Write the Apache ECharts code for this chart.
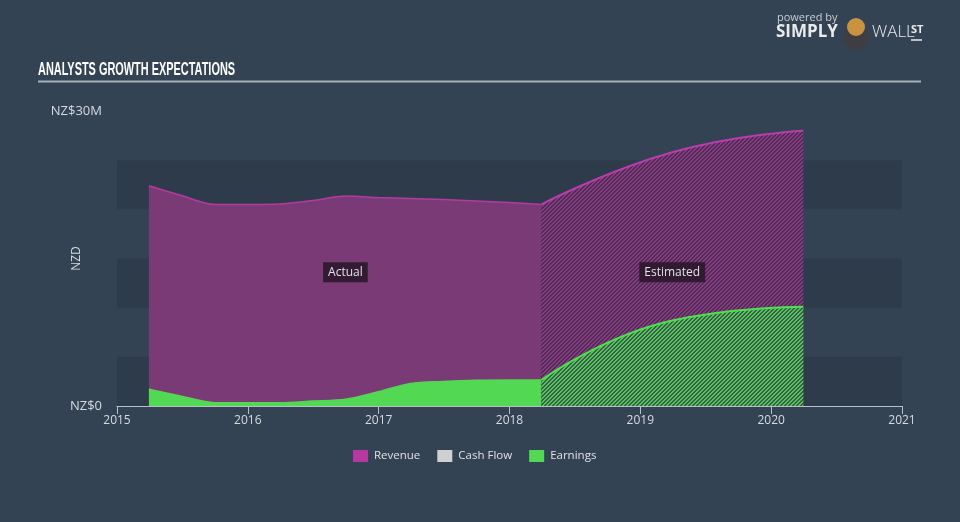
<!DOCTYPE html>
<html>
<head>
<meta charset="utf-8">
<script src="https://cdn.jsdelivr.net/npm/echarts@6/dist/echarts.min.js"></script>
<style>
html,body{margin:0;padding:0;background:#344354;}
#chart{width:960px;height:522px;}
</style>
</head>
<body>
<div id="chart"></div>
<script>
// ---- data ----
const actualDates = ['2015-03-31','2015-06-30','2015-09-30','2015-12-31','2016-03-31','2016-06-30','2016-09-30','2016-12-31','2017-03-31','2017-06-30','2017-09-30','2017-12-31','2018-03-31'];
const revenueActual = [22.4, 21.4, 20.5, 20.5, 20.55, 20.9, 21.35, 21.2, 21.1, 21.0, 20.85, 20.7, 20.5];
const earningsActual = [1.7, 1.0, 0.34, 0.34, 0.34, 0.5, 0.68, 1.45, 2.3, 2.5, 2.62, 2.65, 2.65];
const estimateDates = ['2018-03-31','2019-03-31','2020-03-31'];
const revenueEstimate = [20.5, 25.8, 28.0];
const earningsEstimate = [2.65, 8.7, 10.1];
const cashFlow = [];
const legendNames = ['Revenue', 'Cash Flow', 'Earnings'];
const yTickLabels = {0: 'NZ$0', 30: 'NZ$30M'};
const regionLabels = [
  {text: 'Actual', date: '2016-09-30', value: 13.6},
  {text: 'Estimated', date: '2019-03-31', value: 13.6}
];

// date string -> fractional year (for a linear year axis)
function toYear(s) {
  const d = new Date(s + 'T00:00:00Z');
  const y = d.getUTCFullYear();
  const a = Date.UTC(y, 0, 1), b = Date.UTC(y + 1, 0, 1);
  return y + (d.getTime() - a) / (b - a);
}
function zip(d, v) { return d.map((x, i) => [toYear(x), v[i]]); }
function hatch(bg, fg) {
  const c = document.createElement('canvas');
  c.width = 4; c.height = 4;
  const ctx = c.getContext('2d');
  ctx.fillStyle = bg; ctx.fillRect(0, 0, 4, 4);
  ctx.fillStyle = fg;
  for (let i = 0; i < 4; i++) { ctx.fillRect(i, 3 - i, 1, 1); ctx.fillRect(i, (4 - i) % 4, 1, 1); }
  return c;
}

const REV = '#b43aa2', REV_FILL = '#7a3a76', EARN = '#52d852', CASH = '#d0d0d0';
const labelStyle = {
  show: true, position: 'inside', color: '#e4e0e6', fontSize: 12,
  fontFamily: 'Open Sans', backgroundColor: 'rgba(38,22,40,0.85)', padding: [4, 5]
};

const chart = echarts.init(document.getElementById('chart'), null, {renderer: 'canvas'});
chart.setOption({
  backgroundColor: '#344354',
  animation: false,
  textStyle: {fontFamily: 'Open Sans'},
  grid: {left: 117, right: 58, top: 111, bottom: 116},
  legend: {
    left: 353, top: 450, padding: 0, itemWidth: 15, itemHeight: 12, itemGap: 17, icon: 'rect',
    textStyle: {color: '#dfe2e6', fontSize: 11.5, fontFamily: 'Open Sans', padding: [0, 0, 0, 1]},
    data: [
      {name: legendNames[0], itemStyle: {color: REV}},
      {name: legendNames[1], itemStyle: {color: CASH}},
      {name: legendNames[2], itemStyle: {color: EARN}}
    ]
  },
  xAxis: {
    type: 'value', min: 2015, max: 2021, interval: 1,
    axisLine: {onZero: false, lineStyle: {color: '#b6c0cb', width: 1}},
    axisTick: {show: true, length: 8, lineStyle: {color: '#b6c0cb'}},
    axisLabel: {color: '#d6dbe0', fontSize: 12, margin: 9, showMaxLabel: true, formatter: v => String(Math.round(v))},
    splitLine: {show: false}
  },
  yAxis: {
    type: 'value', min: 0, max: 30, interval: 5,
    name: 'NZD', nameLocation: 'middle', nameGap: 34, nameRotate: 90, nameMoveOverlap: false,
    nameTextStyle: {color: '#d6dbe0', fontSize: 12},
    axisLine: {show: false}, axisTick: {show: false},
    axisLabel: {color: '#d6dbe0', fontSize: 13, margin: 15, formatter: v => yTickLabels[v] || ''},
    splitLine: {show: false},
    splitArea: {show: true, areaStyle: {color: ['#2e3b4a', 'rgba(0,0,0,0)']}}
  },
  series: [
    {
      name: 'Revenue', type: 'line', smooth: 0.3, symbol: 'none', z: 2,
      data: zip(actualDates, revenueActual),
      itemStyle: {color: REV},
      lineStyle: {color: REV, width: 1.5},
      areaStyle: {color: REV_FILL, opacity: 1},
      markPoint: {
        symbol: 'rect', symbolSize: 0, silent: true,
        data: [{coord: [toYear(regionLabels[0].date), regionLabels[0].value], label: Object.assign({}, labelStyle, {formatter: regionLabels[0].text})}]
      }
    },
    {
      name: 'Revenue', type: 'line', smooth: 0.5, symbol: 'none', z: 2,
      data: zip(estimateDates, revenueEstimate),
      itemStyle: {color: REV},
      lineStyle: {color: '#bb3cab', width: 2},
      areaStyle: {color: {image: hatch('#4b2d50', '#8c3b88'), repeat: 'repeat'}, opacity: 1},
      markPoint: {
        symbol: 'rect', symbolSize: 0, silent: true,
        data: [{coord: [toYear(regionLabels[1].date), regionLabels[1].value], label: Object.assign({}, labelStyle, {formatter: regionLabels[1].text})}]
      }
    },
    {
      name: 'Cash Flow', type: 'line', symbol: 'none', data: cashFlow,
      itemStyle: {color: CASH}, lineStyle: {color: CASH}
    },
    {
      name: 'Earnings', type: 'line', smooth: 0.3, symbol: 'none', z: 3,
      data: zip(actualDates, earningsActual),
      itemStyle: {color: EARN},
      lineStyle: {color: EARN, width: 1.5},
      areaStyle: {color: EARN, opacity: 1}
    },
    {
      name: 'Earnings', type: 'line', smooth: 0.5, symbol: 'none', z: 3,
      data: zip(estimateDates, earningsEstimate),
      itemStyle: {color: EARN},
      lineStyle: {color: '#4fe04f', width: 2},
      areaStyle: {color: {image: hatch('#3e5a4c', '#50c857'), repeat: 'repeat'}, opacity: 1}
    }
  ],
  graphic: [
    {type: 'text', x: 38, y: 60, scaleX: 0.575, style: {text: 'ANALYSTS GROWTH EXPECTATIONS', font: 'bold 19px "Liberation Sans", sans-serif', fill: '#ffffff', textVerticalAlign: 'top'}},
    {type: 'line', shape: {x1: 38, y1: 81.5, x2: 921, y2: 81.5}, style: {stroke: '#a7afb8', lineWidth: 2}},
    {type: 'text', x: 777, y: 12, style: {text: 'powered by', font: '11px "Open Sans"', fill: '#c9cdd2'}},
    {type: 'text', x: 776, y: 24, style: {text: 'SIMPLY', font: 'bold 17px "Open Sans"', fill: '#e8eaec'}},
    {type: 'circle', shape: {cx: 856, cy: 38, r: 12}, style: {fill: '#3d3d42'}},
    {type: 'circle', shape: {cx: 856, cy: 27, r: 9}, style: {fill: '#c8923e'}},
    {type: 'text', x: 872, y: 24, style: {text: 'WALL', font: '300 17px "Open Sans"', fill: '#e8eaec'}},
    {type: 'text', x: 911, y: 24, style: {text: 'ST', font: 'bold 11px "Open Sans"', fill: '#e8eaec'}},
    {type: 'line', shape: {x1: 911, y1: 40, x2: 922, y2: 40}, style: {stroke: '#e8eaec', lineWidth: 1.5}}
  ]
});
</script>
</body>
</html>
